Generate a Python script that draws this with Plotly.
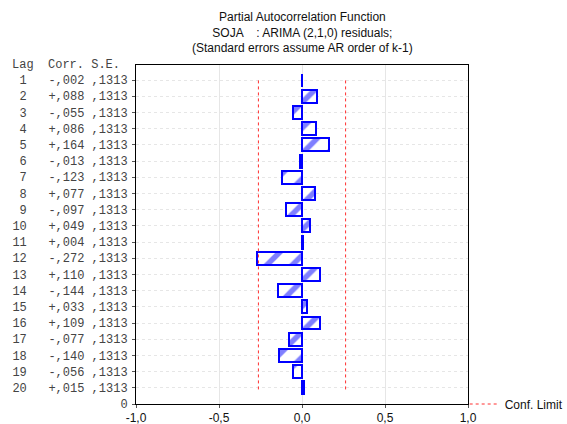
import plotly.graph_objects as go

# Partial autocorrelations of the ARIMA(2,1,0) residuals
lags = list(range(1, 21))
corr = [-0.002, 0.088, -0.055, 0.086, 0.164, -0.013, -0.123, 0.077, -0.097, 0.049,
        0.004, -0.272, 0.110, -0.144, 0.033, 0.109, -0.077, -0.140, -0.056, 0.015]
std_err = [0.1313] * 20
conf_limit = 2 * 0.1313

x_ticks = [-1.0, -0.5, 0.0, 0.5, 1.0]
x_tick_text = ["-1,0", "-0,5", "0,0", "0,5", "1,0"]

NB = "\u00a0"


def fmt_corr(v):
    sign = "-" if v < 0 else "+"
    return sign + ("%.3f" % abs(v)).lstrip("0").replace(".", ",")


def fmt_se(v):
    return ("%.4f" % v).lstrip("0").replace(".", ",")


# lag 1 at the top: plot position = 21 - lag
ypos = [21 - k for k in lags]
y_text = [
    f"{k:>2}".replace(" ", NB) + NB * 3 + fmt_corr(c) + NB + fmt_se(s)
    for k, c, s in zip(lags, corr, std_err)
]

BLUE = "#0000ff"

fig = go.Figure()

fig.add_trace(go.Bar(
    x=corr, y=ypos, orientation="h", width=0.8, base=0,
    marker=dict(
        color="white",
        line=dict(color=BLUE, width=2),
        pattern=dict(shape="/", fgcolor=BLUE, bgcolor="white", size=18, solidity=0.3),
    ),
    showlegend=False, hoverinfo="skip",
))

for i, sgn in enumerate((-1, 1)):
    fig.add_trace(go.Scatter(
        x=[sgn * conf_limit, sgn * conf_limit], y=[0.9, 20.1],
        mode="lines", line=dict(color="#ff3030", width=1, dash="dot"),
        name="Conf. Limit", showlegend=(i == 0), hoverinfo="skip",
    ))

fig.update_layout(
    width=567, height=424,
    margin=dict(l=136, r=99, t=65, b=20, autoexpand=False),
    paper_bgcolor="white", plot_bgcolor="white",
    font=dict(family="Liberation Sans, Arial, sans-serif", size=12, color="#111"),
    bargap=0,
    legend=dict(
        x=0.99, y=0.0, xanchor="left", yanchor="middle",
        font=dict(size=12, color="#111"), itemwidth=30,
        bgcolor="rgba(0,0,0,0)",
    ),
    annotations=[
        dict(
            text="Partial Autocorrelation Function<br>SOJA    : ARIMA (2,1,0) residuals;<br>(Standard errors assume AR order of k-1)",
            xref="paper", yref="paper", x=0.5, y=1.0, xanchor="center", yanchor="bottom",
            yshift=8, showarrow=False, align="center",
            font=dict(size=12, color="#111"),
        ),
        dict(
            text="Lag" + NB * 2 + "Corr." + NB + "S.E.",
            xref="paper", yref="paper", x=0, y=1.0, xanchor="right", yanchor="middle",
            xshift=-14, showarrow=False,
            font=dict(family="Liberation Mono, Courier New, monospace", size=12, color="#444"),
        ),
    ],
)

fig.update_xaxes(
    range=[-1.0, 1.0], tickvals=x_ticks, ticktext=x_tick_text,
    showline=True, linecolor="black", linewidth=1, mirror=True,
    ticks="outside", ticklen=3, tickcolor="#555",
    showgrid=True, gridcolor="#e6e6e6", gridwidth=1,
    zeroline=False, tickfont=dict(size=12, color="#111"),
)
fig.update_yaxes(
    range=[0, 20.93], tickvals=ypos + [0], ticktext=y_text + ["0"],
    showline=True, linecolor="black", linewidth=1, mirror=True,
    ticks="outside", ticklen=3, tickcolor="#555",
    showgrid=True, gridcolor="#e6e6e6", gridwidth=1, griddash="dot",
    zeroline=False, ticklabelstandoff=2,
    tickfont=dict(family="Liberation Mono, Courier New, monospace", size=12, color="#444"),
)

fig.write_html("out.html")
